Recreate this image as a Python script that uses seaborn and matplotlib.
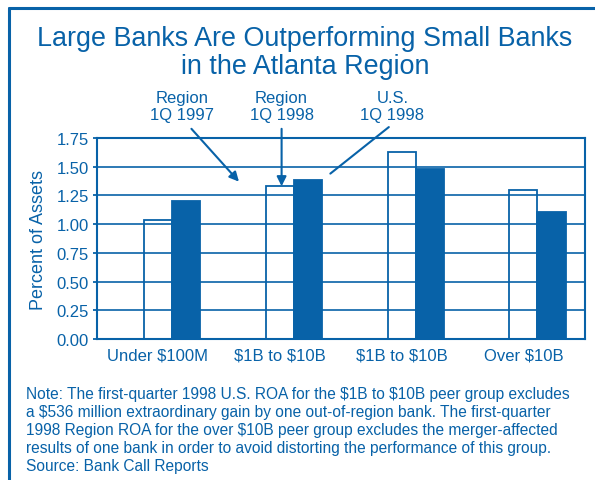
import pandas as pd
import matplotlib
matplotlib.use("Agg")
import matplotlib.pyplot as plt
from matplotlib.lines import Line2D
import seaborn as sns

# values (percent of assets, ROA)
groups = [0, 1, 2, 3]
group_labels = ["Under $100M", "$1B to $10B", "$1B to $10B", "Over $10B"]
open_bars = [1.04, 1.33, 1.63, 1.30]
filled_bars = [1.20, 1.38, 1.48, 1.11]
series_names = ["Region 1Q 1998", "U.S. 1Q 1998"]
y_ticks = [0.0, 0.25, 0.5, 0.75, 1.0, 1.25, 1.5, 1.75]

note = ("Note: The first-quarter 1998 U.S. ROA for the $1B to $10B peer group excludes\n"
        "a $536 million extraordinary gain by one out-of-region bank. The first-quarter\n"
        "1998 Region ROA for the over $10B peer group excludes the merger-affected\n"
        "results of one bank in order to avoid distorting the performance of this group.\n"
        "Source: Bank Call Reports")

blue = "#0862A8"

df = pd.DataFrame({
    "group": groups * 2,
    "series": [series_names[0]] * 4 + [series_names[1]] * 4,
    "value": open_bars + filled_bars,
})

sns.set_style("white")
plt.rcParams["font.family"] = ["Liberation Sans", "DejaVu Sans"]
plt.rcParams["text.parse_math"] = False

fig = plt.figure(figsize=(5.95, 4.81), dpi=100)
ax = fig.add_axes([97 / 595, 1 - 340 / 481, 488 / 595, 201 / 481])

bar_w = 0.46
sns.barplot(data=df, x="group", y="value", hue="series", hue_order=series_names,
            palette={series_names[0]: "white", series_names[1]: blue}, saturation=1,
            width=bar_w, edgecolor=blue, linewidth=1.3, legend=False, ax=ax, zorder=2)
for p in ax.patches:
    if p.get_facecolor()[:3] == (1.0, 1.0, 1.0):
        p.set_facecolor("none")

ax.set_ylim(0, 1.75)
ax.set_xlim(-0.615, 3.39)
ax.set_yticks(y_ticks)
ax.set_yticklabels([f"{t:.2f}" for t in y_ticks])
ax.set_xticks([g - bar_w / 4 for g in groups])
ax.set_xticklabels(group_labels)
ax.tick_params(axis="y", colors=blue, labelsize=12, length=3, width=1.3, direction="out", left=True, pad=3)
ax.tick_params(axis="x", colors=blue, labelsize=12, length=0, pad=6)
ax.yaxis.grid(True, color=blue, linewidth=1.2, zorder=0)
ax.set_axisbelow(True)
for s in ["left", "right", "top", "bottom"]:
    ax.spines[s].set_visible(True)
    ax.spines[s].set_color(blue)
    ax.spines[s].set_linewidth(1.5)
ax.set_xlabel("")
ax.set_ylabel("Percent of Assets", color=blue, fontsize=13, labelpad=7)

# series call-outs
ax.text(0.08, 2.03, "Region\n1Q 1997", color=blue, fontsize=12, ha="center", va="center", linespacing=1.15)
ax.text(0.90, 2.03, "Region\n1Q 1998", color=blue, fontsize=12, ha="center", va="center", linespacing=1.15)
ax.text(1.81, 2.03, "U.S.\n1Q 1998", color=blue, fontsize=12, ha="center", va="center", linespacing=1.15)
arrow = dict(arrowstyle="-|>", color=blue, lw=1.5, mutation_scale=14, shrinkA=0, shrinkB=0)
ax.annotate("", xy=(0.55, 1.37), xytext=(0.16, 1.83), arrowprops=arrow, annotation_clip=False)
ax.annotate("", xy=(0.90, 1.33), xytext=(0.90, 1.83), arrowprops=arrow, annotation_clip=False)
ax.annotate("", xy=(1.30, 1.44), xytext=(1.78, 1.845),
            arrowprops=dict(arrowstyle="-", color=blue, lw=1.5, shrinkA=0, shrinkB=0),
            annotation_clip=False)

fig.text(305 / 595, 1 - 53 / 481, "Large Banks Are Outperforming Small Banks\nin the Atlanta Region",
         color=blue, fontsize=19.4, ha="center", va="center", linespacing=1.12)
fig.text(26 / 595, 1 - 387 / 481, note, color=blue, fontsize=11.2, ha="left", va="top", linespacing=1.26)

# frame around the panel (left and top edges)
fig.add_artist(Line2D([9 / 595, 9 / 595], [0, 1 - 9 / 481], transform=fig.transFigure, color=blue, lw=2.2))
fig.add_artist(Line2D([9 / 595, 1], [1 - 9 / 481, 1 - 9 / 481], transform=fig.transFigure, color=blue, lw=2.2))

fig.savefig("out.png", dpi=100)
